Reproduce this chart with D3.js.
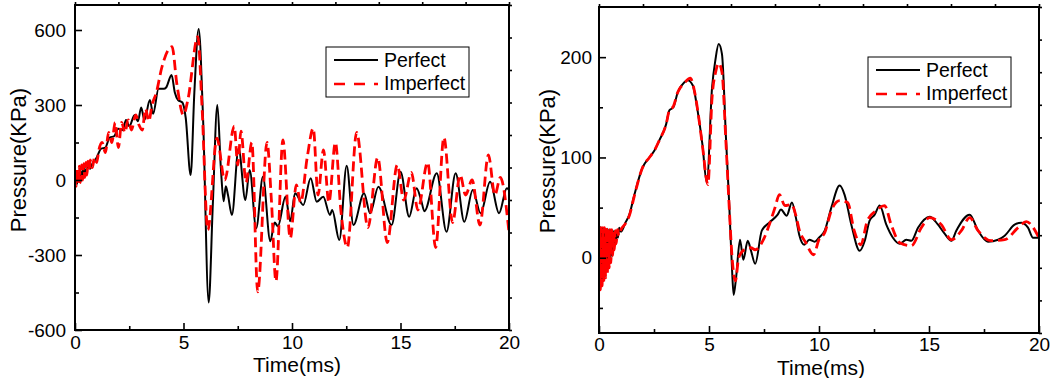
<!DOCTYPE html>
<html>
<head>
<meta charset="utf-8">
<script src="https://cdn.jsdelivr.net/npm/d3@7"></script>
<style>
  body { margin: 0; background: #fff; }
  svg text { font-family: "Liberation Sans", Arial, sans-serif; fill: #000; }
</style>
</head>
<body>
<svg id="chart" width="1052" height="378"></svg>
<script>
// Series names and axis ticks
var seriesNames = ["Perfect", "Imperfect"];
var timeTicks = [0, 5, 10, 15, 20];
var timeMinor = [2.5, 7.5, 12.5, 17.5];
var leftTicks = [-600, -300, 0, 300, 600];
var leftMinor = [-450, -150, 150, 450];
var rightTicks = [0, 100, 200];
var rightMinor = [-50, 50, 150];

// Left panel: [time (ms), pressure (KPa)]
var leftPerfect = [[0,-10],[0.05,25],[0.1,-15],[0.15,30],[0.2,-5],[0.25,35],[0.3,5],[0.35,40],[0.4,15],[0.45,45],[0.5,25],[0.6,55],[0.7,45],[0.8,65],[1.0,90],[1.2,125],[1.4,130],[1.6,170],[1.8,175],[2.0,205],[2.2,200],[2.35,240],[2.5,215],[2.75,260],[2.9,235],[3.05,290],[3.2,240],[3.45,320],[3.6,265],[3.85,365],[4.1,365],[4.2,370],[4.45,420],[4.6,350],[4.75,320],[4.95,310],[5.1,250],[5.33,20],[5.5,350],[5.7,604],[5.9,250],[6.16,-490],[6.35,-100],[6.56,300],[6.72,50],[6.85,-85],[6.95,-25],[7.05,-60],[7.23,-140],[7.54,127],[7.85,-80],[8.05,40],[8.35,-193],[8.66,13],[9.0,-245],[9.2,-170],[9.35,-185],[9.7,-67],[9.92,-165],[10.14,-53],[10.52,-100],[10.86,7],[11.14,-87],[11.44,-67],[11.75,-140],[11.85,-120],[12.18,-240],[12.52,57],[12.83,-180],[13.32,-53],[13.6,-133],[13.98,-27],[14.59,-180],[15.0,33],[15.4,-147],[15.74,-33],[15.95,-80],[16.1,-125],[16.67,27],[17.12,-207],[17.54,27],[17.94,-167],[18.33,-40],[18.69,-133],[19.13,-7],[19.54,-133],[19.9,-33],[20,-40]];

var leftImperfect = [[0,10],[0.05,-25],[0.1,45],[0.15,-20],[0.2,55],[0.25,-10],[0.3,60],[0.35,0],[0.4,65],[0.45,10],[0.5,70],[0.55,20],[0.6,75],[0.65,35],[0.7,80],[0.8,50],[0.9,90],[1.0,70],[1.1,120],[1.25,150],[1.4,110],[1.55,190],[1.7,150],[1.85,230],[2.0,130],[2.15,230],[2.3,190],[2.45,240],[2.6,200],[2.8,260],[2.95,220],[3.1,200],[3.25,285],[3.4,235],[3.55,300],[3.75,350],[4.0,450],[4.47,533],[4.7,380],[5.0,260],[5.2,320],[5.66,573],[5.85,300],[6.12,-200],[6.54,167],[6.9,0],[7.34,215],[7.5,60],[7.65,195],[7.88,-10],[8.15,150],[8.42,-447],[8.85,150],[9.05,-80],[9.26,-405],[9.58,160],[9.92,-233],[10.2,-20],[10.4,-90],[10.7,90],[10.98,207],[11.2,-60],[11.45,120],[11.7,-90],[12.0,150],[12.25,-120],[12.55,-270],[12.98,190],[13.5,-190],[13.95,90],[14.39,-250],[14.85,60],[15.15,-80],[15.5,30],[15.8,-120],[16.25,70],[16.62,-270],[17.0,170],[17.4,-170],[17.75,20],[18.0,-60],[18.3,0],[18.66,-180],[19.05,100],[19.35,-60],[19.6,10],[20,-210]];

// Right panel
var rightPerfect = [[0,32],[0.04,-30],[0.08,31],[0.12,-27],[0.16,30],[0.2,-23],[0.24,30],[0.28,-19],[0.32,29],[0.36,-14],[0.4,29],[0.44,-9],[0.48,28],[0.52,-4],[0.56,28],[0.6,2],[0.64,27],[0.68,8],[0.72,27],[0.76,14],[0.8,27],[0.86,20],[0.92,30],[1.0,26],[1.2,35],[1.38,43],[1.61,63],[1.98,90],[2.29,100],[2.52,107],[2.74,117],[3.05,133],[3.2,147],[3.38,150],[3.58,165],[3.88,175],[4.03,177],[4.26,172],[4.48,147],[4.7,113],[4.9,75],[5.14,170],[5.29,197],[5.44,213],[5.59,203],[5.77,120],[5.92,53],[6.05,-13],[6.12,-37],[6.23,-20],[6.41,18],[6.56,-2],[6.76,17],[6.91,7],[7.1,-6],[7.4,27],[7.74,35],[8.12,43],[8.27,48],[8.53,42],[8.77,55],[8.95,40],[9.1,23],[9.33,13],[9.56,18],[9.8,16],[10.0,20],[10.26,27],[10.56,50],[10.94,72],[11.16,63],[11.47,33],[11.85,7],[12.08,17],[12.3,37],[12.53,43],[12.76,52],[13.06,33],[13.36,20],[13.67,14],[13.97,18],[14.2,17],[14.5,30],[15.03,41],[15.41,33],[15.71,24],[16.02,17],[16.24,27],[16.85,43],[17.23,27],[17.68,16],[18.14,18],[18.44,22],[18.89,33],[19.2,35],[19.5,30],[19.73,20],[20,20]];

var rightImperfect = [[0,0],[0.03,30],[0.06,-32],[0.1,30],[0.14,-28],[0.18,30],[0.22,-24],[0.26,30],[0.3,-20],[0.34,30],[0.38,-15],[0.42,29],[0.46,-10],[0.5,28],[0.54,-5],[0.58,28],[0.62,2],[0.66,27],[0.7,8],[0.74,27],[0.78,14],[0.84,28],[0.9,22],[1.0,28],[1.2,34],[1.38,42],[1.61,62],[1.98,90],[2.29,100],[2.52,107],[2.74,117],[3.05,133],[3.2,147],[3.38,151],[3.58,165],[3.88,174],[4.15,179],[4.35,165],[4.5,145],[4.7,112],[4.95,73],[5.14,160],[5.3,185],[5.44,194],[5.59,185],[5.77,115],[5.92,50],[6.05,0],[6.2,-23],[6.35,0],[6.6,8],[6.9,10],[7.1,8],[7.45,17],[7.74,33],[8.0,50],[8.2,63],[8.45,52],[8.75,53],[8.95,42],[9.1,28],[9.4,15],[9.75,3],[10.0,18],[10.26,25],[10.56,47],[10.94,57],[11.3,55],[11.6,27],[11.9,13],[12.2,37],[12.6,47],[12.98,52],[13.28,33],[13.67,15],[14.2,12],[14.65,30],[15.03,40],[15.56,33],[16.02,18],[16.47,27],[16.85,40],[17.23,27],[17.83,17],[18.44,18],[19.05,30],[19.42,36],[20,20]];

var svg = d3.select("#chart");

// Draw one panel (frame, axes, curves, legend)
function drawPanel(p) {
    var x = d3.scaleLinear().domain([0, 20]).range([p.x0, p.x1]);
    var y = d3.scaleLinear().domain(p.yDomain).range([p.y1, p.y0]);

    var g = svg.append("g");

    // clip curves to plot area
    g.append("clipPath").attr("id", p.id)
        .append("rect")
        .attr("x", p.x0).attr("y", p.y0)
        .attr("width", p.x1 - p.x0).attr("height", p.y1 - p.y0);

    var line = d3.line()
        .x(function(d) { return x(d[0]); })
        .y(function(d) { return y(d[1]); })
        .curve(d3.curveMonotoneX);

    var curves = g.append("g").attr("clip-path", "url(#" + p.id + ")");
    curves.append("path")
        .datum(p.perfect)
        .attr("fill", "none")
        .attr("stroke", "#000")
        .attr("stroke-width", 2)
        .attr("d", line);
    curves.append("path")
        .datum(p.imperfect)
        .attr("fill", "none")
        .attr("stroke", "#ff0000")
        .attr("stroke-width", 2.8)
        .attr("stroke-dasharray", "10,5")
        .attr("d", line);

    // plain hyphen for negative labels
    var fmt = function(d) { return String(d); };

    // bottom axis, ticks inward
    g.append("g")
        .attr("transform", "translate(0," + p.y1 + ")")
        .call(d3.axisBottom(x).tickValues(timeTicks).tickSize(-7).tickPadding(p.xPad).tickFormat(fmt));
    g.append("g")
        .attr("transform", "translate(0," + p.y1 + ")")
        .call(d3.axisBottom(x).tickValues(timeMinor).tickSize(-4).tickFormat(""));

    // left axis, ticks inward
    g.append("g")
        .attr("transform", "translate(" + p.x0 + ",0)")
        .call(d3.axisLeft(y).tickValues(p.ticks).tickSize(-7).tickPadding(p.yPad).tickFormat(fmt));
    g.append("g")
        .attr("transform", "translate(" + p.x0 + ",0)")
        .call(d3.axisLeft(y).tickValues(p.minor).tickSize(-4).tickFormat(""));

    // top and right axes: 10 divisions, small outward ticks
    g.append("g")
        .attr("transform", "translate(0," + p.y0 + ")")
        .call(d3.axisTop(x).tickValues(d3.range(0, 21, 2)).tickSize(3).tickFormat(""));
    var ySpan = p.yDomain[1] - p.yDomain[0];
    g.append("g")
        .attr("transform", "translate(" + p.x1 + ",0)")
        .call(d3.axisRight(y).tickValues(d3.range(0, 11).map(function(i) { return p.yDomain[0] + i * ySpan / 10; }))
            .tickSize(3).tickFormat(""));

    g.selectAll(".domain").remove();
    g.selectAll(".tick line").attr("stroke", "#000").attr("stroke-width", 1.6);
    g.selectAll(".tick text").style("font-size", "19px")
        .style("font-family", "'Liberation Sans', Arial, sans-serif");

    // frame
    g.append("rect")
        .attr("x", p.x0).attr("y", p.y0)
        .attr("width", p.x1 - p.x0).attr("height", p.y1 - p.y0)
        .attr("fill", "none")
        .attr("stroke", "#000")
        .attr("stroke-width", 2);

    // axis labels
    g.append("text")
        .attr("x", p.xLabel[0]).attr("y", p.xLabel[1])
        .style("text-anchor", "middle")
        .style("font-size", "21px")
        .text("Time(ms)");
    g.append("text")
        .attr("transform", "translate(" + p.yLabel[0] + "," + p.yLabel[1] + ") rotate(-90)")
        .style("text-anchor", "middle")
        .style("font-size", "22px")
        .text("Pressure(KPa)");

    // legend
    var lg = g.append("g").attr("transform", "translate(" + p.legend[0] + "," + p.legend[1] + ")");
    lg.append("rect")
        .attr("width", 143).attr("height", 50)
        .attr("fill", "#fff")
        .attr("stroke", "#000")
        .attr("stroke-width", 1);
    lg.append("line")
        .attr("x1", 8).attr("x2", 52).attr("y1", 13).attr("y2", 13)
        .attr("stroke", "#000").attr("stroke-width", 2);
    lg.append("line")
        .attr("x1", 8).attr("x2", 52).attr("y1", 37).attr("y2", 37)
        .attr("stroke", "#ff0000").attr("stroke-width", 2.6)
        .attr("stroke-dasharray", "11,9");
    lg.selectAll(".ltext")
        .data(seriesNames)
        .enter().append("text")
        .attr("x", 58)
        .attr("y", function(d, i) { return 20 + i * 22.5; })
        .style("font-size", "19.5px")
        .text(function(d) { return d; });
}

drawPanel({
    id: "clipL", x0: 75, x1: 509, y0: 5, y1: 330,
    yDomain: [-600, 700], ticks: leftTicks, minor: leftMinor,
    perfect: leftPerfect, imperfect: leftImperfect,
    xPad: 6, yPad: 9,
    xLabel: [297, 372], yLabel: [26, 160], legend: [326, 47]
});

drawPanel({
    id: "clipR", x0: 599, x1: 1039, y0: 7, y1: 333,
    yDomain: [-75, 250], ticks: rightTicks, minor: rightMinor,
    perfect: rightPerfect, imperfect: rightImperfect,
    xPad: 5, yPad: 7,
    xLabel: [821, 375], yLabel: [555, 161], legend: [868, 57]
});
</script>
</body>
</html>
